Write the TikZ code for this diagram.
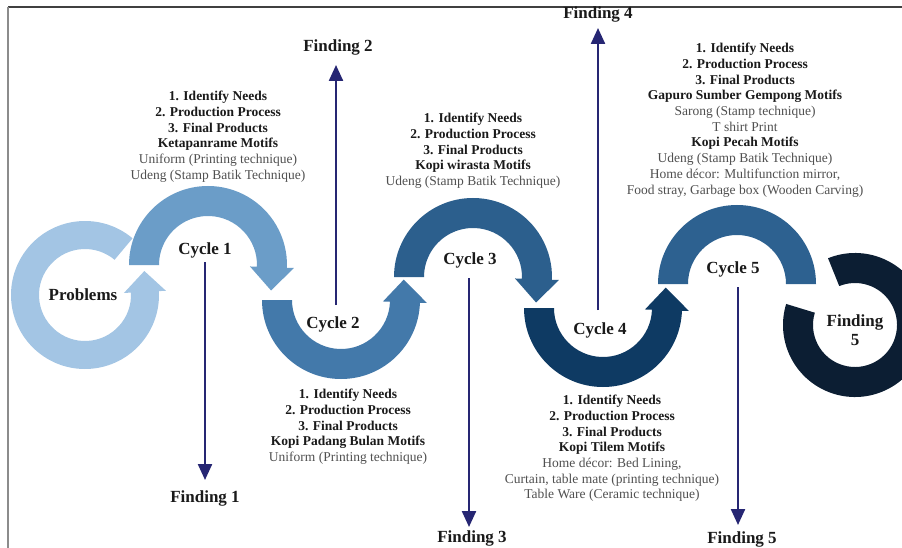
\documentclass[tikz,border=0pt]{standalone}
\usepackage{fontspec}
\setmainfont{Liberation Serif}
\usetikzlibrary{arrows.meta,calc}
\definecolor{cProb}{HTML}{A3C5E4}
\definecolor{cOne}{HTML}{6B9DC8}
\definecolor{cTwo}{HTML}{4379AA}
\definecolor{cThree}{HTML}{2C5F8D}
\definecolor{cFour}{HTML}{0E3A63}
\definecolor{cFive}{HTML}{2D6190}
\definecolor{cFind}{HTML}{0C1E33}
\definecolor{navyline}{HTML}{262673}
\definecolor{gtext}{HTML}{505050}
\definecolor{btext}{HTML}{1A1A1A}
\newcommand\gr[1]{\textcolor{gtext}{#1}}
% center, start, end, Ro, Ri, RoFlare, RiFlare, tip, colour
\newcommand\cyclearrow[9]{%
  \fill[#9] ($(#1)+(#2:#4)$) arc[start angle=#2, end angle=#3, radius=#4]
    -- ($(#1)+(#3:#6)$) -- ($(#1)+(#8)$) -- ($(#1)+(#3:#7)$)
    -- ($(#1)+(#3:#5)$) arc[start angle=#3, end angle=#2, radius=#5] -- cycle;}
\newcommand\ringpart[6]{%
  \fill[#6] ($(#1)+(#2:#4)$) arc[start angle=#2, end angle=#3, radius=#4]
    -- ($(#1)+(#3:#5)$) arc[start angle=#3, end angle=#2, radius=#5] -- cycle;}
\tikzset{
  blk/.style={align=center, inner sep=0pt, anchor=north, text=btext,
    font=\fontsize{13.5}{15.7}\selectfont},
  lbl/.style={font=\fontsize{17}{19}\selectfont\bfseries, text=btext, inner sep=0pt, align=center},
  varrow/.style={draw=navyline, line width=2.3pt, -{Triangle[width=14pt,length=16pt]}},
}
\begin{document}
\begin{tikzpicture}[x=1pt,y=1pt]
\useasboundingbox (0,0) rectangle (902,-548);
\clip (0,0) rectangle (902,-548);
\fill[white] (0,0) rectangle (902,-548);
% frame
\draw[line width=1.8pt, black!75] (8,-7) -- (902,-7);
\draw[line width=1.2pt, black!45] (8,-7) -- (8,-548);

% centres
\coordinate (P0) at (85,-295);
\coordinate (C1) at (208,-265);
\coordinate (C2) at (341,-300);
\coordinate (C3) at (473,-277);
\coordinate (C4) at (603,-308);
\coordinate (C5) at (737,-284);
\coordinate (F5) at (855,-325);

% shapes
\cyclearrow{P0}{50}{363}{74}{46}{81}{39}{22:64}{cProb}
\cyclearrow{C1}{180}{-2}{79}{49}{86}{42}{-22:68}{cOne}
\cyclearrow{C2}{180}{358}{79}{49}{86}{42}{18:66}{cTwo}
\cyclearrow{C3}{180}{-2}{79}{49}{86}{42}{-22:68}{cThree}
\cyclearrow{C4}{180}{358}{79}{49}{86}{42}{18:66}{cFour}
\ringpart{C5}{180}{0}{79}{49}{cFive}
\ringpart{F5}{112}{-197}{72}{42}{cFind}

% labels inside shapes
\node[lbl] (prob) at (83,-295) {Problems};
\node[lbl] (cy1) at (205,-250) {Cycle 1};
\node[lbl] (cy2) at (333,-324) {Cycle 2};
\node[lbl] (cy3) at (470,-260) {Cycle 3};
\node[lbl] (cy4) at (600,-330) {Cycle 4};
\node[lbl] (cy5) at (733,-269) {Cycle 5};
\node[lbl] (fin5r) at (855,-330) {Finding\\5};

% finding labels
\node[lbl] (f1) at (205,-498) {Finding 1};
\node[lbl] (f2) at (338,-47) {Finding 2};
\node[lbl] (f3) at (472,-538) {Finding 3};
\node[lbl] (f4) at (598,-14) {Finding 4};
\node[lbl] (f5) at (742,-539) {Finding 5};

% arrow end points
\coordinate (a1s) at (205,-262); \coordinate (a1e) at (205,-480);
\coordinate (a2s) at (336,-305); \coordinate (a2e) at (336,-65);
\coordinate (a3s) at (469,-278); \coordinate (a3e) at (469,-527);
\coordinate (a4s) at (598,-310); \coordinate (a4e) at (598,-28);
\coordinate (a5s) at (738,-287); \coordinate (a5e) at (738,-525);
\draw[varrow] (a1s) -- (a1e);
\draw[varrow] (a2s) -- (a2e);
\draw[varrow] (a3s) -- (a3e);
\draw[varrow] (a4s) -- (a4e);
\draw[varrow] (a5s) -- (a5e);

% text blocks
\node[blk] (b1) at (218,-91) {\textbf{1. Identify Needs}\\ \textbf{2. Production Process}\\ \textbf{3. Final Products}\\ \textbf{Ketapanrame Motifs}\\ \gr{Uniform (Printing technique)}\\ \gr{Udeng (Stamp Batik Technique)}};
\node[blk] (b2) at (348,-389) {\textbf{1. Identify Needs}\\ \textbf{2. Production Process}\\ \textbf{3. Final Products}\\ \textbf{Kopi Padang Bulan Motifs}\\ \gr{Uniform (Printing technique)}};
\node[blk] (b3) at (473,-113) {\textbf{1. Identify Needs}\\ \textbf{2. Production Process}\\ \textbf{3. Final Products}\\ \textbf{Kopi wirasta Motifs}\\ \gr{Udeng (Stamp Batik Technique)}};
\node[blk] (b4) at (612,-395) {\textbf{1. Identify Needs}\\ \textbf{2. Production Process}\\ \textbf{3. Final Products}\\ \textbf{Kopi Tilem Motifs}\\ \gr{Home décor: Bed Lining,}\\ \gr{Curtain, table mate (printing technique)}\\ \gr{Table Ware (Ceramic technique)}};
\node[blk] (b5) at (745,-43) {\textbf{1. Identify Needs}\\ \textbf{2. Production Process}\\ \textbf{3. Final Products}\\ \textbf{Gapuro Sumber Gempong Motifs}\\ \gr{Sarong (Stamp technique)}\\ \gr{T shirt Print}\\ \textbf{Kopi Pecah Motifs}\\ \gr{Udeng (Stamp Batik Technique)}\\ \gr{Home décor: Multifunction mirror,}\\ \gr{Food stray, Garbage box (Wooden Carving)}};
\end{tikzpicture}
\end{document}
